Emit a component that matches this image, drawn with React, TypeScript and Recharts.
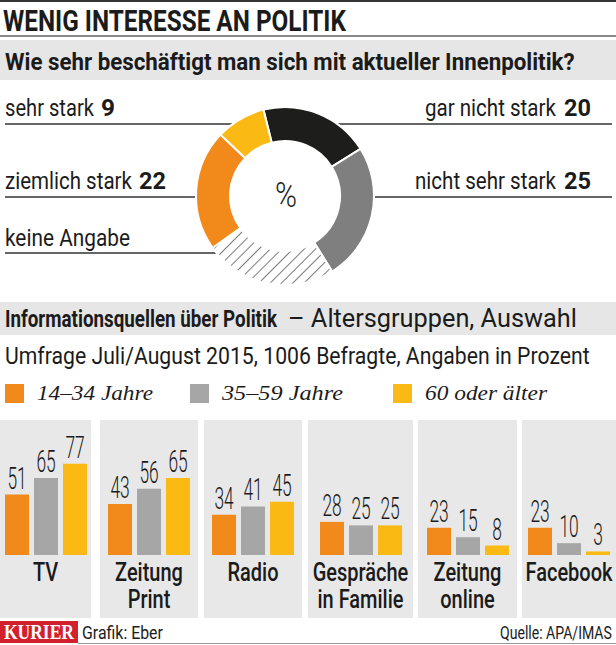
import React, { useLayoutEffect, useRef, useState } from 'react';
import { PieChart, Pie, Cell, BarChart, Bar, XAxis, YAxis, LabelList } from 'recharts';

// Wie sehr beschäftigt man sich mit aktueller Innenpolitik? (in %)
const interestLabels = ['gar nicht stark', 'nicht sehr stark', 'keine Angabe', 'ziemlich stark', 'sehr stark'];
const interestValues = [20, 25, 24, 22, 9];
const interestShowValue = [true, true, false, true, true];

// Informationsquellen über Politik, nach Altersgruppen (in %)
const sources = ['TV', 'Zeitung\nPrint', 'Radio', 'Gespräche\nin Familie', 'Zeitung\nonline', 'Facebook'];
const ageGroups = ['14–34 Jahre', '35–59 Jahre', '60 oder älter'];
const young = [51, 43, 34, 28, 23, 23];
const middle = [65, 56, 41, 25, 15, 10];
const older = [77, 65, 45, 25, 8, 3];

const W = 616;
const H = 645;
const SANS = 'Roboto, "Open Sans", sans-serif';
const SERIF = '"Liberation Serif", "DejaVu Serif", serif';
const INK = '#1b1b1b';
const ORANGE = '#f28a1b';
const GREY = '#a6a6a6';
const YELLOW = '#fbb913';

const ringColors = ['#1d1d1b', '#7f7f7f', 'url(#hatch)', ORANGE, YELLOW];
const ageColors = [ORANGE, GREY, YELLOW];

// label text box, value box and leader line for each ring label
const ringLabelBox = [
  { x: 425, w: 131, vx: 564, vw: 27, y: 116, lx1: 338, lx2: 612, ly: 124 },
  { x: 415, w: 141, vx: 564, vw: 27, y: 189, lx1: 375, lx2: 612, ly: 197 },
  { x: 5, w: 125, vx: 0, vw: 0, y: 246, lx1: 5, lx2: 218, ly: 253 },
  { x: 5, w: 127, vx: 139, vw: 27, y: 189, lx1: 5, lx2: 196, ly: 197 },
  { x: 5, w: 89, vx: 101, vw: 14, y: 116, lx1: 5, lx2: 232, ly: 124 },
];

const panelX = [[0, 91], [100, 198], [204, 302], [308, 413], [418, 517], [522, 616]];
const legendX = [5, 190, 393];
const legendW = [116, 121, 122];

// text squeezed horizontally to a given width (condensed look)
const T = ({ x, y, w, size, weight = 400, family = SANS, italic = false, fill = INK, children }: any) => {
  const ref = useRef<SVGTextElement>(null);
  const [k, setK] = useState(1);
  useLayoutEffect(() => {
    const n = ref.current ? ref.current.getComputedTextLength() : 0;
    if (n > 0) setK(w / n);
  }, [w, size, children]);
  return (
    <text
      ref={ref}
      x={0}
      y={0}
      transform={`translate(${x},${y}) scale(${k},1)`}
      fontSize={size}
      fontWeight={weight}
      fontFamily={family}
      fontStyle={italic ? 'italic' : 'normal'}
      fill={fill}
    >
      {children}
    </text>
  );
};

const ValueLabel = (props: any) => {
  const { x, y, width, value } = props;
  return (
    <text
      transform={`translate(${x + width / 2},${y - 6}) scale(0.56,1)`}
      textAnchor="middle"
      fontSize={31}
      fontWeight={300}
      fontFamily={SANS}
      fill={INK}
    >
      {value}
    </text>
  );
};

const SourceTick = (props: any) => {
  const { x, payload } = props;
  const lines = String(payload.value).split('\n');
  return (
    <g transform={`translate(${x},161) scale(0.8,1)`}>
      <text textAnchor="middle" fontSize={25} fontWeight={500} fontFamily={SANS} fill={INK}>
        {lines.map((l, i) => (
          <tspan key={i} x={0} dy={i === 0 ? 0 : 27}>{l}</tspan>
        ))}
      </text>
    </g>
  );
};

export default function App() {
  const ringData = interestLabels.map((name, i) => ({ name, value: interestValues[i] }));

  return (
    <div style={{ position: 'absolute', left: 0, top: 0, width: W, height: H, background: '#fff', overflow: 'hidden' }}>
      {/* backgrounds and rules */}
      <svg width={W} height={H} style={{ position: 'absolute', left: 0, top: 0 }}>
        <line x1={0} x2={W} y1={1} y2={1} stroke="#333" strokeWidth={2} />
        <line x1={0} x2={W} y1={36} y2={36} stroke="#888" strokeWidth={2} />
        <rect x={0} y={40} width={W} height={40} fill="#e6e6e6" />
        <rect x={0} y={302} width={W} height={33} fill="#e6e6e6" />
        {ringLabelBox.map((b, i) => (
          <line key={i} x1={b.lx1} x2={b.lx2} y1={b.ly} y2={b.ly} stroke="#333" strokeWidth={1.5} />
        ))}
        {ageGroups.map((g, i) => (
          <rect key={g} x={legendX[i]} y={384} width={19} height={19} fill={ageColors[i]} />
        ))}
        <rect x={0} y={621} width={78} height={22} fill="#d2202f" />
        <line x1={78} x2={W} y1={643.5} y2={643.5} stroke="#999" strokeWidth={1} />
      </svg>

      {/* ring */}
      <div style={{ position: 'absolute', left: 185, top: 96, width: 200, height: 200 }}>
        <PieChart width={200} height={200} margin={{ top: 0, right: 0, bottom: 0, left: 0 }}>
          <defs>
            <pattern id="hatch" width={8} height={8} patternUnits="userSpaceOnUse" patternTransform="rotate(45)">
              <rect width={8} height={8} fill="#fff" />
              <line x1={0} y1={0} x2={0} y2={8} stroke="#333" strokeWidth={1.3} />
            </pattern>
          </defs>
          <Pie
            data={ringData}
            dataKey="value"
            cx={100}
            cy={100}
            innerRadius={55}
            outerRadius={89}
            startAngle={104}
            endAngle={-256}
            stroke="#fff"
            strokeWidth={2}
            isAnimationActive={false}
          >
            {ringData.map((d, i) => (
              <Cell key={d.name} fill={ringColors[i]} />
            ))}
          </Pie>
        </PieChart>
      </div>

      {/* source panels */}
      {sources.map((s, i) => {
        const [x0, x1] = panelX[i];
        const row = [{ name: s, a: young[i], b: middle[i], c: older[i] }];
        return (
          <div key={s} style={{ position: 'absolute', left: x0, top: 420, width: x1 - x0, height: 198, background: '#e8e8e8' }}>
            <BarChart width={x1 - x0} height={198} data={row} margin={{ top: 0, right: 0, bottom: 0, left: 0 }} barGap={5} barCategoryGap={0}>
              <XAxis dataKey="name" height={63} axisLine={false} tickLine={false} tick={<SourceTick />} interval={0} />
              <YAxis hide domain={[0, 114]} />
              {['a', 'b', 'c'].map((k, j) => (
                <Bar key={k} dataKey={k} fill={ageColors[j]} barSize={24} isAnimationActive={false}>
                  <LabelList dataKey={k} content={<ValueLabel />} />
                </Bar>
              ))}
            </BarChart>
          </div>
        );
      })}

      {/* texts */}
      <svg width={W} height={H} style={{ position: 'absolute', left: 0, top: 0, pointerEvents: 'none' }}>
        <T x={3} y={31} w={343} size={30} weight={700}>WENIG INTERESSE AN POLITIK</T>
        <T x={5} y={70} w={570} size={24} weight={700}>Wie sehr beschäftigt man sich mit aktueller Innenpolitik?</T>
        {ringLabelBox.map((b, i) => (
          <g key={i}>
            <T x={b.x} y={b.y} w={b.w} size={24}>{interestLabels[i]}</T>
            {interestShowValue[i] ? (
              <T x={b.vx} y={b.y} w={b.vw} size={24} weight={700}>{String(interestValues[i])}</T>
            ) : null}
          </g>
        ))}
        <T x={275} y={207} w={22} size={36} weight={300}>%</T>
        <T x={5} y={327} w={272} size={23} weight={700}>Informationsquellen über Politik</T>
        <T x={288} y={327} w={289} size={25}>– Altersgruppen, Auswahl</T>
        <T x={5} y={364} w={585} size={24}>Umfrage Juli/August 2015, 1006 Befragte, Angaben in Prozent</T>
        {ageGroups.map((g, i) => (
          <T key={g} x={legendX[i] + 32} y={400} w={legendW[i]} size={22} family={SERIF} italic>{g}</T>
        ))}
        <T x={4} y={639} w={70} size={20} weight={700} family={SERIF} fill="#fff">KURIER</T>
        <T x={82} y={639} w={81} size={19}>Grafik: Eber</T>
        <T x={500} y={639} w={112} size={19}>Quelle: APA/IMAS</T>
      </svg>
    </div>
  );
}
